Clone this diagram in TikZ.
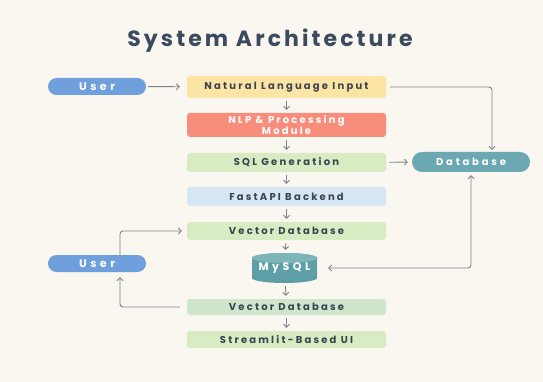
\documentclass[tikz,border=0pt]{standalone}
\usepackage{fontspec}
\setmainfont{Poppins}
\usetikzlibrary{arrows.meta}
\definecolor{bgc}{HTML}{FAF6F0}
\definecolor{titlec}{HTML}{3C4A5E}
\definecolor{txt}{HTML}{3A4450}
\definecolor{arrc}{HTML}{7D828C}
\definecolor{userblue}{HTML}{6F9FDC}
\definecolor{yel}{HTML}{FCE5A4}
\definecolor{salmon}{HTML}{F78D7A}
\definecolor{greenA}{HTML}{D8EBC3}
\definecolor{greenB}{HTML}{CFE6CD}
\definecolor{lblue}{HTML}{D6E6F3}
\definecolor{tealbody}{HTML}{5E9EA6}
\definecolor{tealtop}{HTML}{7DB6B8}
\definecolor{dbteal}{HTML}{6BA8B2}
\newcommand{\boxfont}{\bfseries\fontsize{10}{10.5}\selectfont\addfontfeature{LetterSpace=22}}
\newcommand{\pillfont}{\bfseries\fontsize{10}{11}\selectfont\addfontfeature{LetterSpace=28}}
\newcommand{\userfont}{\bfseries\fontsize{11}{12}\selectfont\addfontfeature{LetterSpace=32}}
\begin{document}
\begin{tikzpicture}[x=1pt,y=-1pt,
  box/.style={rounded corners=3pt, minimum width=199pt, inner sep=0pt, text=txt, align=center,
    font=\boxfont},
  pill/.style={rounded corners=8.5pt, minimum width=98pt, minimum height=17pt, inner sep=0pt,
    fill=userblue, text=white, font=\userfont},
  arr/.style={draw=arrc, line width=0.9pt, -{Straight Barb[length=2.8pt,width=6pt]}},
  darr/.style={draw=arrc, line width=0.9pt, {Straight Barb[length=2.8pt,width=6pt]}-{Straight Barb[length=2.8pt,width=6pt]}},
]
\fill[bgc] (0,0) rectangle (543,382);
\useasboundingbox (0,0) rectangle (543,382);

\node[font=\bfseries\fontsize{22}{24}\selectfont\addfontfeature{LetterSpace=14}, text=titlec] (title) at (270,41) {System Architecture};

\node[pill] (u1) at (97,86.5) {User};
\node[box, fill=yel, minimum height=22pt] (nli) at (286.5,87) {Natural Language Input};
\node[box, fill=salmon, minimum height=24pt, text=white] (nlp) at (286.5,125) {NLP \& Processing\\Module};
\node[box, fill=greenA, minimum height=19pt] (sql) at (286.5,162.5) {SQL Generation};
\node[box, fill=lblue, minimum height=19pt] (api) at (286.5,196.5) {FastAPI Backend};
\node[box, fill=greenA, minimum height=18pt] (vdb1) at (286.5,231) {Vector Database};
% MySQL cylinder
\fill[tealbody] (252,258) -- (252,278) arc[start angle=180,end angle=360,x radius=32.5pt,y radius=5pt]
  -- (317,258) arc[start angle=0,end angle=180,x radius=32.5pt,y radius=5pt] -- cycle;
\fill[tealtop] (284.5,258) ellipse[x radius=32.5pt, y radius=5pt];
\node[minimum width=65pt, minimum height=30pt, inner sep=0pt, text=white,
  font=\userfont] (mysql) at (284.5,268) {\raisebox{-2.5pt}{MySQL}};
\node[box, fill=greenB, minimum height=16pt] (vdb2) at (286.5,307) {Vector Database};
\node[box, fill=greenA, minimum height=17pt] (ui) at (286.5,339.5) {Streamlit-Based UI};
\node[pill, fill=dbteal, minimum width=118pt, minimum height=20pt, rounded corners=10pt, font=\pillfont] (db) at (471,162) {Database};
\node[pill] (u2) at (97,263.5) {User};

% connectors
\draw[arr, shorten <=2pt, shorten >=7pt] (u1) -- (nli);
\foreach \a/\b in {nli/nlp, nlp/sql, sql/api, api/vdb1, vdb1/mysql, mysql/vdb2, vdb2/ui}
  \draw[arr, shorten <=3pt, shorten >=3pt] (\a) -- (\b);
\draw[arr, rounded corners=3pt, shorten <=4pt, shorten >=2pt] (nli.east) -| ([xshift=21pt]db.north);
\draw[arr, shorten <=3pt, shorten >=4pt] (sql) -- (db);
\draw[darr, rounded corners=3pt, shorten <=11pt, shorten >=3pt] (mysql.east) -| (db.south);
\draw[arr, rounded corners=3pt, shorten >=5pt] ([xshift=23pt]u2.north) |- (vdb1.west);
\draw[arr, rounded corners=3pt, shorten <=7pt, shorten >=5pt] (vdb2.west) -| ([xshift=23pt]u2.south);
\end{tikzpicture}
\end{document}
